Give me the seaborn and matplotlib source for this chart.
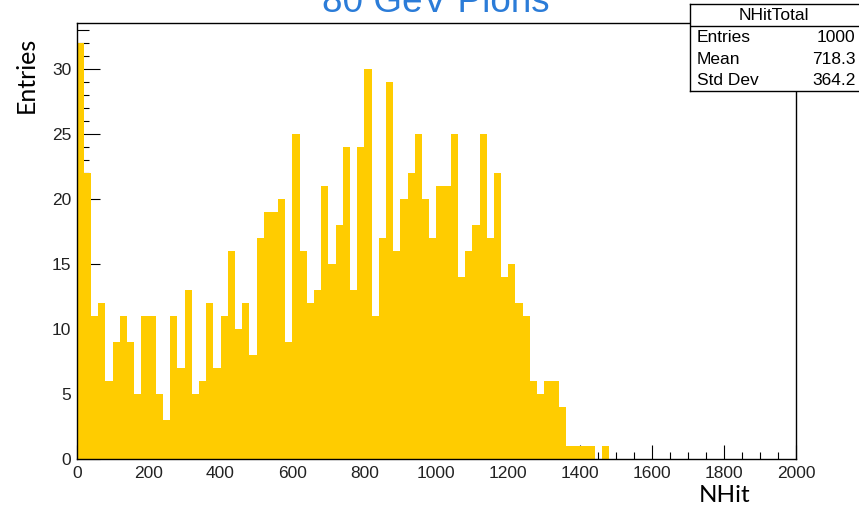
import numpy as np
import pandas as pd
import matplotlib
matplotlib.use("Agg")
import matplotlib.pyplot as plt
import seaborn as sns
from matplotlib.ticker import MultipleLocator

# ---- data (bin counts, bins of width 20 starting at 0) ----
bin_width = 20
x_max = 2000
counts = [
    32, 22, 11, 12, 6, 9, 11, 9, 5, 11,
    11, 5, 3, 11, 7, 13, 5, 6, 12, 7,
    11, 16, 10, 12, 8, 17, 19, 19, 20, 9,
    25, 16, 12, 13, 21, 15, 18, 24, 13, 24,
    30, 11, 17, 29, 16, 20, 22, 25, 20, 17,
    21, 21, 25, 14, 16, 18, 25, 17, 22, 14,
    15, 12, 11, 6, 5, 6, 6, 4, 1, 1,
    1, 1, 0, 1,
]
title = "80 GeV Pions"
x_label = "NHit"
y_label = "Entries"
stats_name = "NHitTotal"
stats_labels = ["Entries", "Mean", "Std Dev"]
stats_values = ["1000", "718.3", "364.2"]

n_bins = x_max // bin_width
full_counts = np.array(counts + [0] * (n_bins - len(counts)), dtype=float)
centers = np.arange(n_bins) * bin_width + bin_width / 2
df = pd.DataFrame({"NHit": centers, "count": full_counts})

sns.set_theme(style="white")
plt.rcParams["font.family"] = ["Liberation Sans", "DejaVu Sans"]

W, H = 859, 507
fig = plt.figure(figsize=(W / 100, H / 100), dpi=100)
fig.patch.set_facecolor("white")

ax_l, ax_r, ax_t, ax_b = 76.7, 796, 22.7, 459
ax = fig.add_axes([ax_l / W, 1 - ax_b / H, (ax_r - ax_l) / W, (ax_b - ax_t) / H])
ax.set_facecolor("white")

sns.histplot(data=df, x="NHit", weights="count", binwidth=bin_width,
             binrange=(0, x_max), element="step",
             fill=True, color="#FFCC00", alpha=1.0, linewidth=0, ax=ax)

ax.set_xlim(0, x_max)
ax.set_ylim(0, 33.6)
ax.set_xlabel("")
ax.set_ylabel("")

ax.xaxis.set_major_locator(MultipleLocator(200))
ax.xaxis.set_minor_locator(MultipleLocator(50))
ax.yaxis.set_major_locator(MultipleLocator(5))
ax.yaxis.set_minor_locator(MultipleLocator(1))

ax.tick_params(axis="x", which="major", direction="in", length=10.0, width=0.8,
               color="black", labelsize=12.5, labelcolor="#222222", pad=5,
               bottom=True, top=False)
ax.tick_params(axis="x", which="minor", direction="in", length=5.0, width=0.8,
               color="black", bottom=True, top=False)
ax.tick_params(axis="y", which="major", direction="in", length=16.3, width=0.8,
               color="black", labelsize=12.5, labelcolor="#222222", pad=4,
               left=True, right=False)
ax.tick_params(axis="y", which="minor", direction="in", length=8.5, width=0.8,
               color="black", left=True, right=False)

for s in ax.spines.values():
    s.set_visible(True)
    s.set_color("black")
    s.set_linewidth(1.0)

# title (partly cut off at the top like the reference)
fig.text(435.5 / W, 1 - 12.5 / H, title, ha="center", va="baseline",
         fontsize=26.6, color="#2b7cd8")

# axis labels
fig.text(26 / W, 1 - 74.5 / H, y_label, rotation=90, ha="center", va="center",
         fontsize=18, color="black", family=["Lato", "DejaVu Sans"])
fig.text(725 / W, 1 - 502 / H, x_label, ha="center", va="baseline",
         fontsize=17.5, color="black", family=["Lato", "DejaVu Sans"])

# stats box (its right border lies just outside the picture, as in the reference)
bx_l, bx_r, bx_t, bx_b = 689.5, 864, 4, 91
sax = fig.add_axes([bx_l / W, 1 - bx_b / H, (bx_r - bx_l) / W, (bx_b - bx_t) / H])
sax.set_xlim(bx_l, bx_r)
sax.set_ylim(bx_b, bx_t)
sax.set_xticks([])
sax.set_yticks([])
sax.set_facecolor("white")
for s in sax.spines.values():
    s.set_color("black")
    s.set_linewidth(1.0)
sax.plot([bx_l, bx_r], [26, 26], color="black", linewidth=1.0)
sax.text(774, 15.5, stats_name, ha="center", va="center",
         fontsize=12.5, color="black")
rows_y = [37, 59, 80.5]
for lab, val, yy in zip(stats_labels, stats_values, rows_y):
    sax.text(697, yy, lab, ha="left", va="center", fontsize=12.5, color="black")
    sax.text(855.5, yy, val, ha="right", va="center", fontsize=12.5, color="black")

fig.savefig("out.png", dpi=100, facecolor="white")
